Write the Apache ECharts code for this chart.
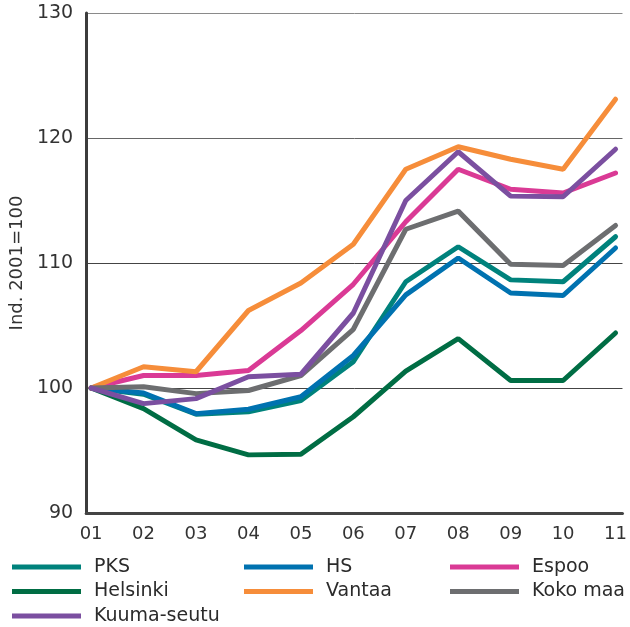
<!DOCTYPE html>
<html><head><meta charset="utf-8">
<script src="https://cdn.jsdelivr.net/npm/echarts@6/dist/echarts.min.js"></script>
<style>html,body{margin:0;padding:0;background:#fff}#c{width:630px;height:627px}</style>
</head><body><div id="c"></div>
<script>
var categories = ['01','02','03','04','05','06','07','08','09','10','11'];
var yTicks = [90,100,110,120,130];
var pks      = [100, 99.5, 97.9, 98.1, 99.0, 102.1, 108.5, 111.3, 108.65, 108.5, 112.1];
var hs       = [100, 99.6, 97.95, 98.3, 99.3, 102.6, 107.45, 110.4, 107.6, 107.4, 111.2];
var espoo    = [100, 101.0, 101.0, 101.4, 104.6, 108.3, 113.3, 117.5, 115.9, 115.6, 117.2];
var helsinki = [100, 98.35, 95.85, 94.65, 94.7, 97.7, 101.35, 103.95, 100.6, 100.6, 104.4];
var vantaa   = [100, 101.7, 101.3, 106.2, 108.4, 111.5, 117.5, 119.3, 118.3, 117.5, 123.1];
var kokomaa  = [100, 100.1, 99.55, 99.8, 101.0, 104.7, 112.7, 114.15, 109.9, 109.8, 113.0];
var kuuma    = [100, 98.75, 99.15, 100.9, 101.1, 106.0, 115.0, 118.9, 115.35, 115.3, 119.1];

var names  = ['PKS','HS','Espoo','Helsinki','Vantaa','Koko maa','Kuuma-seutu'];
var values = [pks, hs, espoo, helsinki, vantaa, kokomaa, kuuma];
var colors = ['#00827c','#0072b0','#da3a95','#006d44','#f68d3a','#6d6e70','#7b4fa0'];

var FONT = 'DejaVu Sans';
function pairs(arr){ return arr.map(function(v,i){ return [i+1, v]; }); }

var series = names.map(function(n, k){
  return {
    name: n, type: 'line', data: pairs(values[k]), showSymbol: false, symbol: 'none',
    lineStyle: { width: 5, color: colors[k], cap: 'round' },
    itemStyle: { color: colors[k] }
  };
});

function legendCol(left, items){
  return {
    orient: 'vertical', left: left, top: 557, padding: 0, itemGap: 4.5,
    itemWidth: 69, itemHeight: 5, icon: 'rect', data: items,
    selectedMode: false,
    textStyle: { fontFamily: FONT, fontSize: 19, color: '#2b2b2b', lineHeight: 20, padding: [0,0,0,8] }
  };
}

var chart = echarts.init(document.getElementById('c'), null, { renderer: 'canvas' });
chart.setOption({
  animation: false,
  backgroundColor: '#fff',
  grid: { left: 86, right: 3, top: 13, bottom: 114 },
  legend: [
    legendCol(12, ['PKS','Helsinki','Kuuma-seutu']),
    legendCol(244, ['HS','Vantaa']),
    legendCol(450, ['Espoo','Koko maa'])
  ],
  xAxis: {
    type: 'value', min: 0.9055, max: 11.132,
    axisLine: { show: true, lineStyle: { color: '#444', width: 3 } },
    axisTick: { show: false },
    splitLine: { show: false },
    axisLabel: {
      customValues: categories.map(function(c,i){ return i+1; }),
      formatter: function(v){ return categories[Math.round(v)-1] || ''; },
      fontFamily: FONT, fontSize: 18, color: '#333', margin: 12
    }
  },
  yAxis: {
    type: 'value', min: yTicks[0], max: yTicks[yTicks.length-1], interval: 10,
    name: 'Ind. 2001=100', nameLocation: 'middle', nameGap: 52, nameRotate: 90,
    nameTextStyle: { fontFamily: FONT, fontSize: 18, color: '#333' },
    axisLine: { show: true, lineStyle: { color: '#3c3c3c', width: 3 } },
    axisTick: { show: false },
    axisLabel: { fontFamily: FONT, fontSize: 19, color: '#333', margin: 13 },
    splitLine: { show: true, lineStyle: { color: ['#444','#444','#444','#666','#8a8a8a'], width: 1 } }
  },
  series: series
});
</script></body></html>
